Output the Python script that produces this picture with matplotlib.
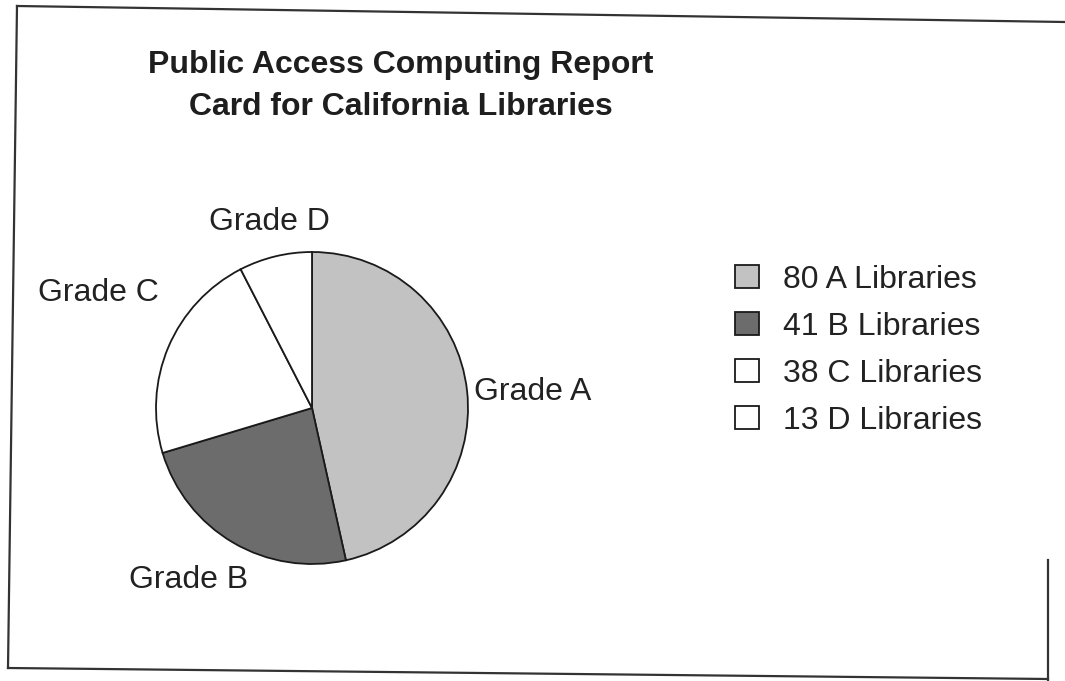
import matplotlib
matplotlib.use("Agg")
import matplotlib.pyplot as plt
from matplotlib.lines import Line2D

# ---- data ----
grades = ["Grade A", "Grade B", "Grade C", "Grade D"]
counts = [80, 41, 38, 13]
legend_labels = ["80 A Libraries", "41 B Libraries", "38 C Libraries", "13 D Libraries"]
title_text = "Public Access Computing Report\nCard for California Libraries"

# ---- style ----
colors = ["#c2c2c2", "#6c6c6c", "#ffffff", "#ffffff"]
FONT = "Liberation Sans"
FS = 23
W, H = 1065, 681

fig = plt.figure(figsize=(W / 100, H / 100), dpi=100)
fig.patch.set_facecolor("white")

# pie axes: centre (312, 408) px, radius ~156 px
cx, cy, r = 312, 408, 156
ax = fig.add_axes([(cx - r) / W, (H - cy - r) / H, 2 * r / W, 2 * r / H])
wedges, _ = ax.pie(counts, colors=colors, startangle=90, counterclock=False,
                   radius=1.0,
                   wedgeprops=dict(edgecolor="#1a1a1a", linewidth=1.3))
ax.set_xlim(-1, 1)
ax.set_ylim(-1, 1)
ax.set_aspect("equal")
ax.axis("off")

# slice labels (layout positions in pie-radius units)
label_layout = {
    "Grade A": (1.04, 0.10, "left"),
    "Grade B": (-0.79, -1.10, "center"),
    "Grade C": (-1.37, 0.74, "center"),
    "Grade D": (-0.27, 1.19, "center"),
}
for g in grades:
    x, y, ha = label_layout[g]
    ax.text(x, y, g, ha=ha, va="center", fontsize=FS, family=FONT, color="#222222")

# title
fig.text(401 / W, 1 - 86 / H, title_text, ha="center", va="center",
         fontsize=FS, fontweight="bold", family=FONT, color="#1e1e1e",
         linespacing=1.55)

# legend
leg = fig.legend(wedges, legend_labels, loc="upper left",
                 bbox_to_anchor=(706 / W, 1 - 236 / H),
                 frameon=False, handlelength=0.75, handleheight=0.75,
                 handletextpad=0.75, labelspacing=0.53,
                 prop=dict(family=FONT, size=FS))
for t in leg.get_texts():
    t.set_color("#222222")

# scanned page frame (slightly skewed)
def px(x, y):
    return (x / W, 1 - y / H)

frame = [((17, 6), (1065, 22)), ((17, 6), (8, 668)), ((8, 668), (1048, 679)),
         ((1048, 560), (1048, 681))]
for (a, b) in frame:
    (x0, y0), (x1, y1) = px(*a), px(*b)
    fig.add_artist(Line2D([x0, x1], [y0, y1], transform=fig.transFigure,
                          color="#333333", linewidth=1.6))

fig.savefig("out.png", dpi=100, facecolor="white")
